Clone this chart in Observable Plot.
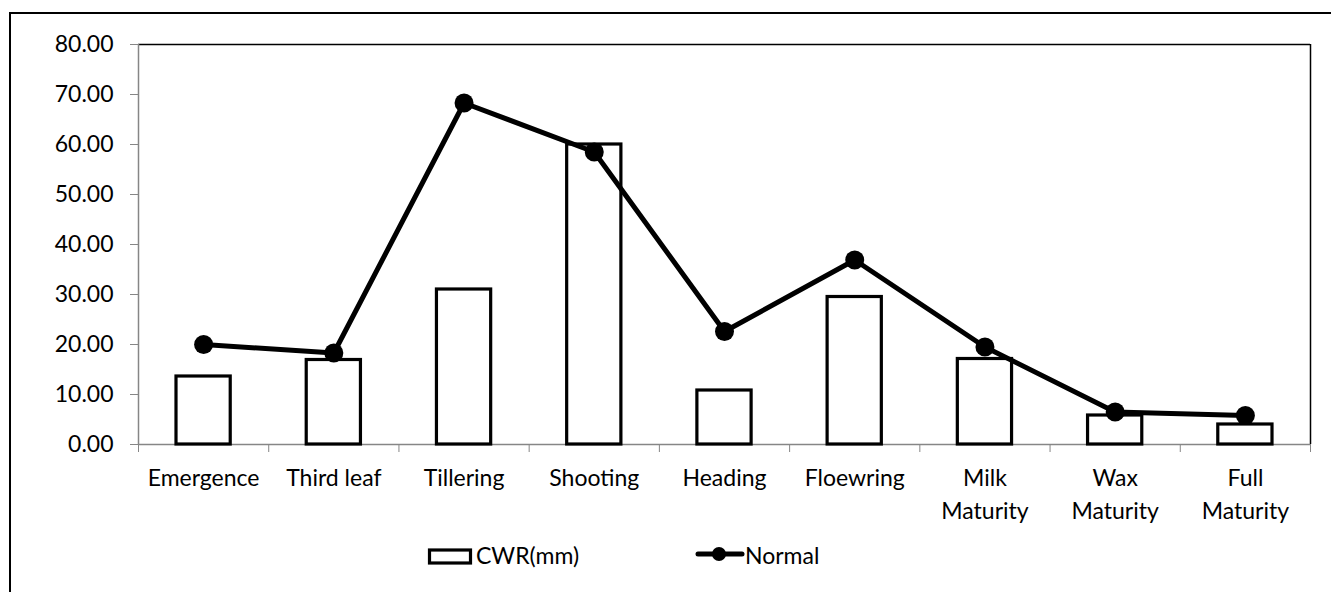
<!DOCTYPE html>
<html><head><meta charset="utf-8">
<script src="https://cdn.jsdelivr.net/npm/d3@7"></script>
<script src="https://cdn.jsdelivr.net/npm/@observablehq/plot@0.6"></script>
<style>
body{margin:0;background:#fff;}
#wrap{position:relative;width:1331px;height:592px;overflow:hidden;font-family:Lato,sans-serif;background:#fff;}
#frame{position:absolute;left:9px;top:12px;width:1340px;height:600px;border:2px solid #000;}
#chart{position:absolute;left:0;top:0;}
#legend{position:absolute;left:0;top:530px;}
</style></head><body>
<div id="wrap"><div id="frame"></div><div id="chart"></div><div id="legend"></div></div>
<script>
const stages = ["Emergence","Third leaf","Tillering","Shooting","Heading","Floewring","Milk\nMaturity","Wax\nMaturity","Full\nMaturity"];
const cwr = [13.6,16.9,31.0,60.0,10.8,29.5,17.1,5.8,4.0];
const normal = [20.0,18.3,68.3,58.5,22.6,36.9,19.5,6.5,5.8];
const yTicks = [0,10,20,30,40,50,60,70,80];
const seriesNames = ["CWR(mm)","Normal"];

const table = stages.map((s,i)=>({stage:s, i, cwr:cwr[i], normal:normal[i]}));
const n = stages.length;
const gray = "#868686";
const FONT = 23;

const chart = Plot.plot({
  width: 1331,
  height: 540,
  marginLeft: 138,
  marginRight: 21,
  marginTop: 44,
  marginBottom: 96,
  style: {fontFamily: "Lato, sans-serif", fontSize: FONT + "px", color: "black", background: "transparent"},
  x: {type: "linear", domain: [0, n]},
  y: {domain: [0, 80]},
  marks: [
    Plot.ruleY([80], {stroke: "black", strokeWidth: 1.5}),
    Plot.ruleX([n], {stroke: "black", strokeWidth: 1.5}),
    Plot.ruleX([0], {stroke: gray, strokeWidth: 1.5}),
    Plot.ruleY([0], {stroke: gray, strokeWidth: 1.5}),
    Plot.axisY({ticks: yTicks, tickFormat: d3.format(".2f"), tickSize: 8, tickPadding: 17, stroke: gray, fill: "black", fontSize: FONT, label: null}),
    Plot.axisX({ticks: d3.range(0, n + 1), tickFormat: () => "", tickSize: 8, stroke: gray, label: null}),
    Plot.axisX({ticks: d3.range(n).map(i => i + 0.5), tickFormat: d => stages[Math.floor(d)], tickSize: 0, tickPadding: 18, fontSize: FONT, lineHeight: 1.43, fill: "black", label: null}),
    Plot.rectY(table, {x1: d => d.i, x2: d => d.i + 1, y: "cwr", insetLeft: 38, insetRight: 38, fill: "white", stroke: "black", strokeWidth: 3.2}),
    Plot.line(table, {x: d => d.i + 0.5, y: "normal", stroke: "black", strokeWidth: 5}),
    Plot.dot(table, {x: d => d.i + 0.5, y: "normal", r: 9.5, fill: "black", stroke: "none"})
  ]
});
document.getElementById("chart").appendChild(chart);

// legend
const lg = d3.select("#legend").append("svg").attr("width", 1331).attr("height", 50)
  .style("font-family", "Lato, sans-serif").style("font-size", FONT + "px");
const g1 = lg.append("g");
g1.append("rect").attr("x", 429.5).attr("y", 20).attr("width", 41).attr("height", 13).attr("fill", "white").attr("stroke", "black").attr("stroke-width", 3.2);
g1.append("text").attr("x", 476).attr("y", 34).text(seriesNames[0]);
const g2 = lg.append("g");
g2.append("line").attr("x1", 698).attr("x2", 742).attr("y1", 24).attr("y2", 24).attr("stroke", "black").attr("stroke-width", 5).attr("stroke-linecap", "round");
g2.append("circle").attr("cx", 719).attr("cy", 24).attr("r", 7);
g2.append("text").attr("x", 745).attr("y", 34).text(seriesNames[1]);
</script>
</body></html>
